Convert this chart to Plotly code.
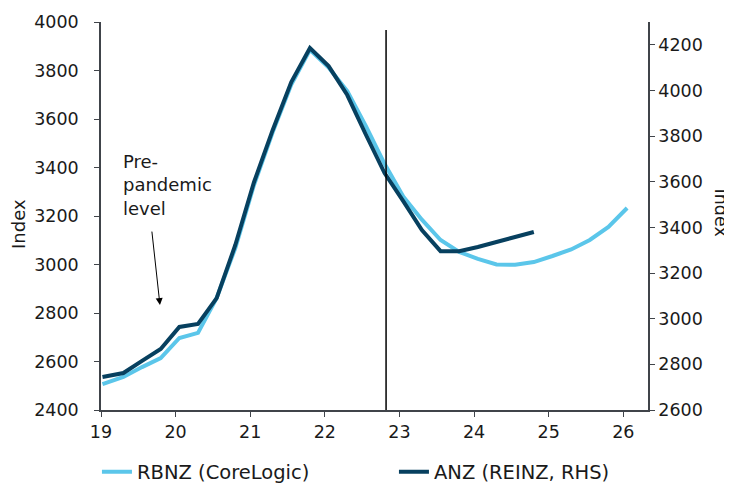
import plotly.graph_objects as go

# Quarterly x positions (year, 2-digit)
quarters = [19.02, 19.3, 19.55, 19.8, 20.05, 20.3, 20.55, 20.8, 21.05, 21.3, 21.55,
            21.8, 22.05, 22.3, 22.55, 22.8, 23.05, 23.3, 23.55, 23.8, 24.05, 24.3,
            24.55, 24.8, 25.05, 25.3, 25.55, 25.8, 26.05]

rbnz_corelogic = [2507, 2536, 2577, 2614, 2697, 2718, 2862, 3068, 3328, 3545, 3742,
                  3885, 3812, 3715, 3570, 3415, 3280, 3185, 3101, 3052, 3023, 3000,
                  2999, 3010, 3035, 3062, 3101, 3155, 3233]

anz_reinz = [2745, 2762, 2815, 2867, 2964, 2977, 3090, 3323, 3598, 3826, 4037,
             4186, 4107, 3980, 3806, 3638, 3515, 3388, 3296, 3296, 3314, 3336,
             3358, 3380]

x_ticks = [19, 20, 21, 22, 23, 24, 25, 26]
left_ticks = [2400, 2600, 2800, 3000, 3200, 3400, 3600, 3800, 4000]
right_ticks = [2600, 2800, 3000, 3200, 3400, 3600, 3800, 4000, 4200]

forecast_start = 22.82

FONT = "DejaVu Sans"
TXT = "#1a1a1a"
AXC = "#40444a"
LIGHT = "#5bc6ea"
DARK = "#07405f"

fig = go.Figure()
fig.add_trace(go.Scatter(x=quarters[:len(rbnz_corelogic)], y=rbnz_corelogic,
                         mode="lines", name="RBNZ (CoreLogic)",
                         line=dict(color=LIGHT, width=4), yaxis="y"))
fig.add_trace(go.Scatter(x=quarters[:len(anz_reinz)], y=anz_reinz,
                         mode="lines", name="ANZ (REINZ, RHS)",
                         line=dict(color=DARK, width=4), yaxis="y2"))

fig.add_shape(type="line", xref="x", yref="y", x0=forecast_start, x1=forecast_start,
              y0=2400, y1=3967, line=dict(color="black", width=1.5))

fig.add_annotation(text="Pre-<br>pandemic<br>level", xref="x", yref="y",
                   x=19.27, y=3475, xanchor="left", yanchor="top", align="left",
                   showarrow=False, font=dict(family=FONT, size=18, color=TXT))
fig.add_annotation(text="", xref="x", yref="y", x=19.79, y=2833,
                   axref="x", ayref="y", ax=19.68, ay=3142,
                   showarrow=True, arrowhead=2, arrowsize=1.4, arrowwidth=1,
                   arrowcolor="black")

fig.add_annotation(text="Index", xref="paper", yref="paper", x=-0.152, y=0.479,
                   xanchor="center", yanchor="middle",
                   textangle=-90, showarrow=False,
                   font=dict(family=FONT, size=18, color=TXT))
fig.add_annotation(text="Index", xref="paper", yref="paper", x=1.134, y=0.508,
                   xanchor="center", yanchor="middle",
                   textangle=90, showarrow=False,
                   font=dict(family=FONT, size=17.5, color=TXT))

axis_common = dict(showgrid=False, zeroline=False, showline=True, linecolor=AXC,
                   linewidth=1.5, ticks="outside", ticklen=5, tickcolor=AXC,
                   automargin=False,
                   tickfont=dict(family=FONT, size=17.5, color=TXT))

fig.update_layout(
    width=732, height=485,
    margin=dict(l=93, r=92, t=14, b=83, autoexpand=False),
    paper_bgcolor="white", plot_bgcolor="white",
    font=dict(family=FONT, size=18, color=TXT),
    xaxis=dict(range=[19, 26.33], tickvals=x_ticks, **axis_common),
    yaxis=dict(range=[2400, 4000], tickvals=left_ticks, ticklabelstandoff=12,
               **axis_common),
    yaxis2=dict(range=[2600, 4300], tickvals=right_ticks, overlaying="y", side="right",
                tickprefix="\u00a0\u00a0", **axis_common),
    showlegend=True,
    legend=dict(orientation="h", x=-0.0074, xanchor="left", y=-0.11, yanchor="top",
                font=dict(family=FONT, size=19.5, color=TXT),
                entrywidth=252, entrywidthmode="pixels", itemwidth=30,
                bgcolor="rgba(0,0,0,0)"),
)

fig.write_html("out.html")
